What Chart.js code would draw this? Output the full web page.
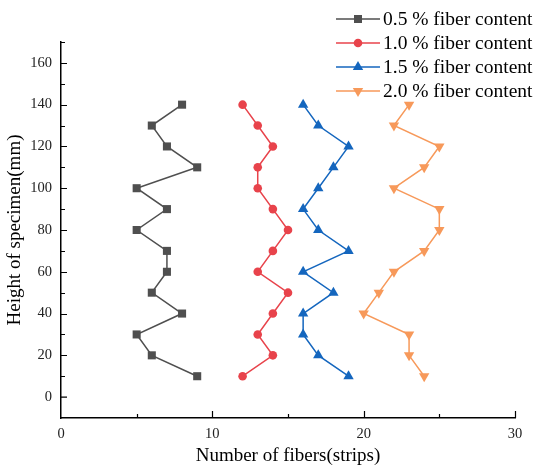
<!DOCTYPE html>
<html>
<head>
<meta charset="utf-8">
<script src="https://cdn.jsdelivr.net/npm/chart.js@4/dist/chart.umd.min.js"></script>
<style>
  body { margin: 0; background: #fff; }
  canvas { display: block; }
</style>
</head>
<body>
<canvas id="fiberChart" width="534" height="470"></canvas>
<script>
const heights = [10, 20, 30, 40, 50, 60, 70, 80, 90, 100, 110, 120, 130, 140];
const fiber05 = [9, 6, 5, 8, 6, 7, 7, 5, 7, 5, 9, 7, 6, 8];
const fiber10 = [12, 14, 13, 14, 15, 13, 14, 15, 14, 13, 13, 14, 13, 12];
const fiber15 = [19, 17, 16, 16, 18, 16, 19, 17, 16, 17, 18, 19, 17, 16];
const fiber20 = [24, 23, 23, 20, 21, 22, 24, 25, 25, 22, 24, 25, 22, 23];
const seriesNames = [
  '0.5 % fiber content',
  '1.0 % fiber content',
  '1.5 % fiber content',
  '2.0 % fiber content',
];
const xTicks = [0, 10, 20, 30];
const yTicks = [0, 20, 40, 60, 80, 100, 120, 140, 160];

const serif = "'Liberation Serif', 'Times New Roman', serif";

function pts(xs) {
  return xs.map((v, i) => ({ x: v, y: heights[i] }));
}

function series(i, xs, color, style, radius, rotation) {
  return {
    label: seriesNames[i],
    data: pts(xs),
    showLine: true,
    borderColor: color,
    backgroundColor: color,
    borderWidth: 1.5,
    pointStyle: style,
    pointRadius: radius,
    pointRotation: rotation || 0,
    pointBorderWidth: 0,
  };
}

// inward tick marks and the legend in the top right corner
const extras = {
  id: 'extras',
  afterDraw(chart) {
    const c = chart.ctx;
    const xs = chart.scales.x, ys = chart.scales.y;
    c.save();
    c.strokeStyle = '#000';
    c.lineWidth = 1.2;
    c.beginPath();
    for (let v = 10; v <= 170; v += 10) {
      const p = Math.round(ys.getPixelForValue(v)) + 0.5;
      const len = v % 20 === 0 ? 6 : 4;
      c.moveTo(xs.left, p);
      c.lineTo(xs.left + len, p);
    }
    c.moveTo(xs.left, ys.getPixelForValue(0));
    c.lineTo(xs.left + 6, ys.getPixelForValue(0));
    for (let v = 5; v <= 30; v += 5) {
      const p = Math.round(xs.getPixelForValue(v)) + 0.5;
      const len = v % 10 === 0 ? 7 : 4;
      c.moveTo(p, ys.bottom);
      c.lineTo(p, ys.bottom - len);
    }
    c.stroke();

    const rows = [19, 43, 67, 91];
    c.font = '19.5px ' + serif;
    c.textBaseline = 'middle';
    chart.data.datasets.forEach((ds, i) => {
      const y = rows[i];
      c.strokeStyle = ds.borderColor;
      c.lineWidth = 1.5;
      c.beginPath();
      c.moveTo(336, y);
      c.lineTo(380, y);
      c.stroke();
      c.fillStyle = ds.backgroundColor;
      Chart.helpers.drawPoint(c, {
        pointStyle: ds.pointStyle,
        radius: ds.pointRadius,
        rotation: ds.pointRotation,
        borderWidth: 0,
      }, 358, y);
      c.fillStyle = '#000';
      c.fillText(ds.label, 383, y + 1);
    });
    c.restore();
  },
};

const chart = new Chart(document.getElementById('fiberChart').getContext('2d'), {
  type: 'scatter',
  data: {
    datasets: [
      series(0, fiber05, '#4f4f4f', 'rect', 5.7),
      series(1, fiber10, '#e8434b', 'circle', 4.3),
      series(2, fiber15, '#1466be', 'triangle', 6),
      series(3, fiber20, '#f7995a', 'triangle', 6, 180),
    ],
  },
  options: {
    responsive: false,
    animation: false,
    layout: { padding: { top: 42, right: 19, left: 0, bottom: 0 } },
    plugins: {
      legend: { display: false },
      tooltip: { enabled: false },
    },
    scales: {
      x: {
        type: 'linear',
        min: 0,
        max: 30,
        afterBuildTicks: (s) => { s.ticks = xTicks.map((v) => ({ value: v })); },
        afterFit: (s) => { s.height = 52; },
        grid: { display: false, drawTicks: false },
        border: { display: true, color: '#000', width: 1.5 },
        ticks: { color: '#222', padding: 7, font: { family: serif, size: 14.5 } },
        title: {
          display: true,
          text: 'Number of fibers(strips)',
          color: '#000',
          font: { family: serif, size: 19 },
          padding: { top: 0, bottom: 3 },
        },
      },
      y: {
        type: 'linear',
        min: -10,
        max: 170,
        afterBuildTicks: (s) => { s.ticks = yTicks.map((v) => ({ value: v })); },
        afterFit: (s) => { s.width = 61; },
        grid: { display: false, drawTicks: false },
        border: { display: true, color: '#000', width: 1.5 },
        ticks: { color: '#222', padding: 9, font: { family: serif, size: 14.5 } },
        title: {
          display: true,
          text: 'Height of specimen(mm)',
          color: '#000',
          font: { family: serif, size: 19 },
          padding: { top: 4, bottom: 0 },
        },
      },
    },
  },
  plugins: [extras],
});
</script>
</body>
</html>
